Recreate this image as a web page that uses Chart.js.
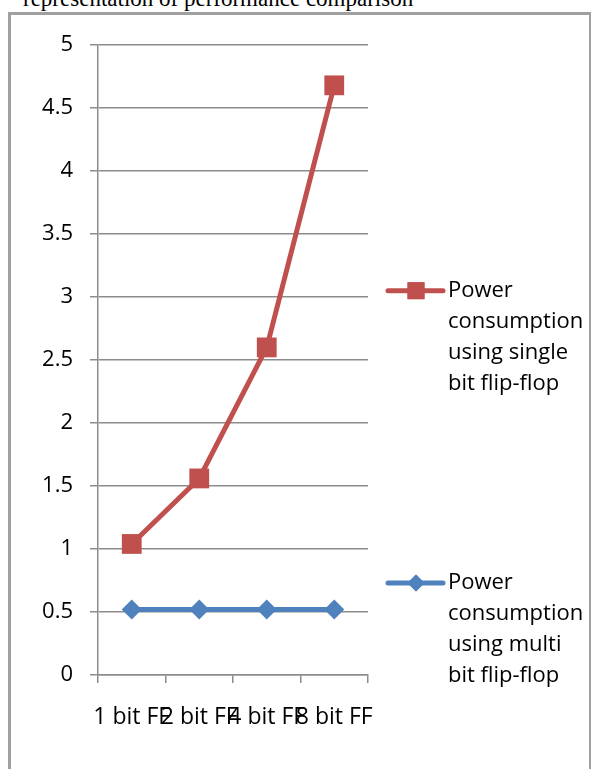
<!DOCTYPE html>
<html>
<head>
<meta charset="utf-8">
<script src="https://cdn.jsdelivr.net/npm/chart.js@4/dist/chart.umd.min.js"></script>
<style>
	body { margin: 0; width: 592px; height: 769px; overflow: hidden; background: #fff; position: relative; }
	#title { position: absolute; left: 23px; top: -13px; font-family: "Liberation Serif", serif; font-size: 23px; line-height: 23px; color: #000; white-space: nowrap; }
	#frame { position: absolute; left: 8px; top: 12px; width: 578px; height: 800px; border: 3px solid #a0a0a0; border-right: 2px solid #a0a0a0; border-bottom: none; }
	#wrap { position: absolute; left: 0; top: 0; width: 592px; height: 769px; }
</style>
</head>
<body>
<div id="title">representation of performance comparison</div>
<div id="frame"></div>
<div id="wrap"><canvas id="myChart"></canvas></div>
<script>
const categories = ['1 bit FF', '2 bit FF', '4 bit FF', '8 bit FF'];
const singleBit = [1.04, 1.56, 2.6, 4.68];
const multiBit = [0.52, 0.52, 0.52, 0.52];
const singleLabel = ['Power', 'consumption', 'using single', 'bit flip-flop'];
const multiLabel = ['Power', 'consumption', 'using multi', 'bit flip-flop'];

const red = '#C0504D';
const blue = '#4F81BD';
const gridGray = '#8c8c8c';
const fontFamily = '"Open Sans", "Noto Sans", sans-serif';

// legend drawn by hand, Excel style with wrapped text
const sideLegend = {
	id: 'sideLegend',
	afterDraw(chart) {
		const ctx = chart.ctx;
		const area = chart.chartArea;
		const items = [
			{ text: singleLabel, color: red, style: 'rect', radius: 12, yFrac: 0.390 },
			{ text: multiLabel, color: blue, style: 'rectRot', radius: 8.5, yFrac: 0.854 }
		];
		ctx.save();
		items.forEach(item => {
			const y = area.top + item.yFrac * (area.bottom - area.top);
			const x0 = area.right + 20;
			ctx.strokeStyle = item.color;
			ctx.lineWidth = 5;
			ctx.lineCap = 'round';
			ctx.beginPath();
			ctx.moveTo(x0, y);
			ctx.lineTo(x0 + 55, y);
			ctx.stroke();
			ctx.fillStyle = item.color;
			Chart.helpers.drawPoint(ctx, { pointStyle: item.style, radius: item.radius, rotation: 0, borderWidth: 0 }, x0 + 28, y);
			ctx.fill();
			ctx.fillStyle = '#000';
			ctx.font = '22px ' + fontFamily;
			ctx.textBaseline = 'middle';
			ctx.textAlign = 'left';
			item.text.forEach((line, i) => {
				ctx.fillText(line, x0 + 60, y + i * 31);
			});
		});
		ctx.restore();
	}
};

const ctx = document.getElementById('myChart').getContext('2d');
const myChart = new Chart(ctx, {
	type: 'line',
	data: {
		labels: categories,
		datasets: [{
			label: 'Power consumption using single bit flip-flop',
			data: singleBit,
			borderColor: red,
			backgroundColor: red,
			borderWidth: 5,
			pointStyle: 'rect',
			pointRadius: 14,
			pointHoverRadius: 14,
			pointBorderWidth: 0
		}, {
			label: 'Power consumption using multi bit flip-flop',
			data: multiBit,
			borderColor: blue,
			backgroundColor: blue,
			borderWidth: 5,
			pointStyle: 'rectRot',
			pointRadius: 10,
			pointHoverRadius: 10,
			pointBorderWidth: 0
		}]
	},
	options: {
		responsive: true,
		maintainAspectRatio: false,
		animation: false,
		layout: { padding: { top: 45, right: 224, bottom: 0, left: 0 } },
		plugins: {
			legend: { display: false },
			tooltip: { enabled: false }
		},
		scales: {
			x: {
				offset: true,
				grid: { offset: true, drawOnChartArea: false, drawTicks: true, tickLength: 8, color: gridGray, lineWidth: 1.5 },
				border: { color: gridGray, width: 1.5 },
				ticks: { color: '#000', font: { family: fontFamily, size: 23 }, padding: 21, maxRotation: 0, autoSkip: false },
				afterFit: scale => { scale.height = 94; }
			},
			y: {
				min: 0,
				max: 5,
				grid: { color: gridGray, lineWidth: 1.5, tickLength: 8 },
				border: { color: gridGray, width: 1.5 },
				ticks: {
					stepSize: 0.5,
					color: '#000',
					font: { family: fontFamily, size: 22 },
					padding: 17,
					callback: value => String(value)
				},
				afterFit: scale => { scale.width = 98; }
			}
		}
	},
	plugins: [sideLegend]
});
</script>
</body>
</html>
